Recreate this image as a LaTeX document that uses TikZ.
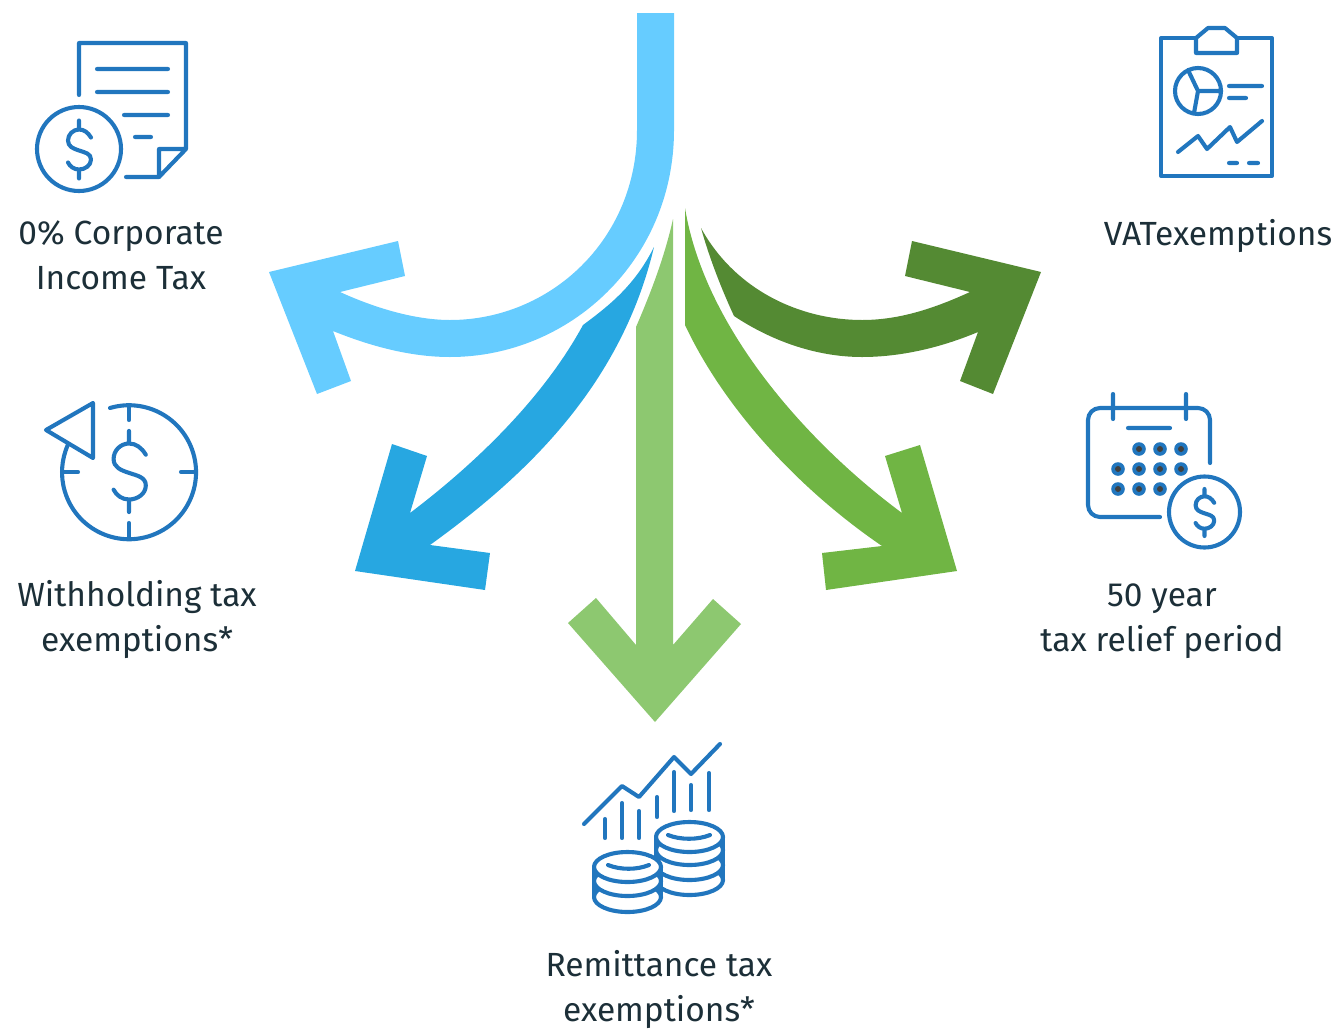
\documentclass[tikz,border=0pt]{standalone}
\usepackage{fontspec}
\setmainfont{Fira Sans}
\definecolor{skyarrow}{HTML}{66CCFF}
\definecolor{bluearrow}{HTML}{27A7E1}
\definecolor{palearrow}{HTML}{8DC870}
\definecolor{greenarrow}{HTML}{70B544}
\definecolor{darkarrow}{HTML}{548A33}
\definecolor{iconblue}{HTML}{2176BE}
\definecolor{textdark}{HTML}{1C2F38}
\tikzset{
    icon/.style={draw=iconblue, line width=4.1pt, line cap=round, line join=round},
    caption/.style={text=textdark, align=center, inner sep=0pt, font=\fontsize{33.5}{45}\selectfont},
    dollar/.pic={
        \draw[icon]
        (12,-12) .. controls (9,-17) and (5,-20) .. (0,-20)
        .. controls (-6,-20) and (-11,-15) .. (-11,-9)
        .. controls (-11,-3) and (-6,-1) .. (0,1)
        .. controls (6,3) and (12,4) .. (12,10)
        .. controls (12,16) and (6,20) .. (0,20)
        .. controls (-5,20) and (-9,17) .. (-11,13)
        (0,-29) to (0,-20)
        (0,20) to (0,29)
        ;
    },
    coin/.style={icon, fill=white}
}
\begin{document}
\begin{tikzpicture}[x=1pt, y=-1pt]
    \useasboundingbox (0,0) rectangle (1338,1028);
    %% Arrows
    \fill[skyarrow] (637,13) -- (674,13) -- (674,130)
    .. controls (674,260) and (570,357) .. (450,357)
    .. controls (410,357) and (370,346) .. (333,331)
    -- (351,381) -- (317,394) -- (269,272) -- (398,241) -- (405,276) -- (340,292)
    .. controls (375,308) and (415,320) .. (450,320)
    .. controls (550,320) and (637,240) .. (637,130) -- cycle;
    \fill[bluearrow] (654,247)
    .. controls (620,390) and (520,480) .. (430,545)
    -- (490,553) -- (485,590) -- (355,571) -- (392,444) -- (427,456) -- (410,513)
    .. controls (480,460) and (545,395) .. (583,325)
    .. controls (610,305) and (635,285) .. (654,247) -- cycle;
    \fill[palearrow] (673,219) -- (673,645) -- (713,599) -- (741,624) -- (655,722)
    -- (568,623) -- (596,598) -- (636,645) -- (636,327)
    .. controls (652,290) and (665,255) .. (673,219) -- cycle;
    \fill[greenarrow] (685,208)
    .. controls (705,330) and (810,445) .. (902,513)
    -- (885,456) -- (920,445) -- (957,571) -- (826,590) -- (822,553) -- (882,546)
    .. controls (800,490) and (725,410) .. (685,325) -- cycle;
    \fill[darkarrow] (701,228)
    .. controls (735,290) and (800,320) .. (862,320)
    .. controls (900,320) and (935,308) .. (970,292)
    -- (905,276) -- (912,241) -- (1041,272) -- (993,394) -- (960,381) -- (978,332)
    .. controls (940,348) and (900,357) .. (862,357)
    .. controls (815,357) and (770,340) .. (734,316)
    .. controls (722,290) and (710,260) .. (701,228) -- cycle;

    %% Document icon
    \draw[icon] (79,95) -- (79,43) -- (186,43) -- (186,149) -- (159,149) -- (159,177) -- (186,149);
    \draw[icon]
    (97,69) to (168,69)
    (97,92) to (168,92)
    (124,115) to (168,115)
    (135,137) to (151,137)
    (126,177) to (159,177)
    (79,149) circle (42)
    ;
    \pic at (79,149.5) {dollar};

    %% Clipboard icon
    \draw[icon] (1196,38) -- (1161,38) -- (1161,176) -- (1272,176) -- (1272,38) -- (1237,38);
    \draw[icon] (1196,53) -- (1196,38) -- (1208,28) -- (1225,28) -- (1237,38) -- (1237,53) -- cycle;
    \draw[icon]
    (1198,91) circle (23)
    (1198,91) to (1221,91)
    (1198,91) to (1188,70)
    (1198,91) to (1194,113)
    (1229,86) to (1262,86)
    (1229,98) to (1246,98)
    (1229,163) to (1237,163)
    (1249,163) to (1258,163)
    ;
    \draw[icon] (1178,152) -- (1198,136) -- (1207,149) -- (1230,127) -- (1237,142) -- (1262,121);

    %% Clock icon
    \draw[icon] (110,408) arc[start angle=253.5, end angle=563.9, radius=67];
    \draw[icon] (93,403) -- (46,430) -- (93,458) -- cycle;
    \draw[icon]
    (129,405) to (129,420)
    (129,523) to (129,538)
    (62,472) to (78,472)
    (181,472) to (196,472)
    ;
    \pic[scale=1.4] at (129,471.5) {dollar};

    %% Calendar icon
    \draw[icon, rounded corners=12pt] (1210,463) -- (1210,408) -- (1088,408) -- (1088,517) -- (1160,517);
    \draw[icon]
    (1113,394) to (1113,419)
    (1186,394) to (1186,419)
    (1128,428) to (1170,428)
    (1204.5,512) circle (35.5)
    ;
    \foreach \px/\py in {1139/449,1160/449,1181/449,1118/469,1139/469,1160/469,1181/469,1118/489,1139/489,1160/489}{
        \fill[iconblue] (\px,\py) circle (6.8);
        \fill[black!75] (\px,\py) circle (3);
    }
    \pic[scale=0.81] at (1204.5,512.5) {dollar};

    %% Coins icon
    \draw[icon] (584,824) -- (622,786) -- (639,797) -- (674,757) -- (691,774) -- (720,744);
    \draw[icon]
    (605,819) to (605,838)
    (622,803) to (622,838)
    (639,811) to (639,838)
    (657,797) to (657,817)
    (674,772) to (674,811)
    (691,785) to (691,810)
    (709,773) to (709,810)
    ;
    \foreach \ly in {880,865,850,837}{
        \draw[coin] (689.5,\ly) ellipse [x radius=33.5, y radius=15];
    }
    \draw[icon] (656,837) to (656,880) (723,837) to (723,880);
    \draw[icon] (668,835) .. controls (680,840) and (698,840) .. (710,835);
    \fill[white] (594,867) rectangle (661,897);
    \foreach \ly in {897,881,867}{
        \draw[coin] (627.5,\ly) ellipse [x radius=33.5, y radius=15];
    }
    \draw[icon] (594,867) to (594,897) (661,867) to (661,897);
    \draw[icon] (608,865) .. controls (620,870) and (637,870) .. (649,865);

    %% Captions
    \node[caption] (corporate) at (121,255) {0\% Corporate\\Income Tax};
    \node[caption] (vat) at (1218,235.5) {VATexemptions};
    \node[caption] (withholding) at (137,619.5) {Withholding tax\\exemptions*};
    \node[caption] (relief) at (1162,621) {50 year\\tax relief period};
    \node[caption] (remittance) at (659,989) {Remittance tax\\exemptions*};
\end{tikzpicture}
\end{document}
